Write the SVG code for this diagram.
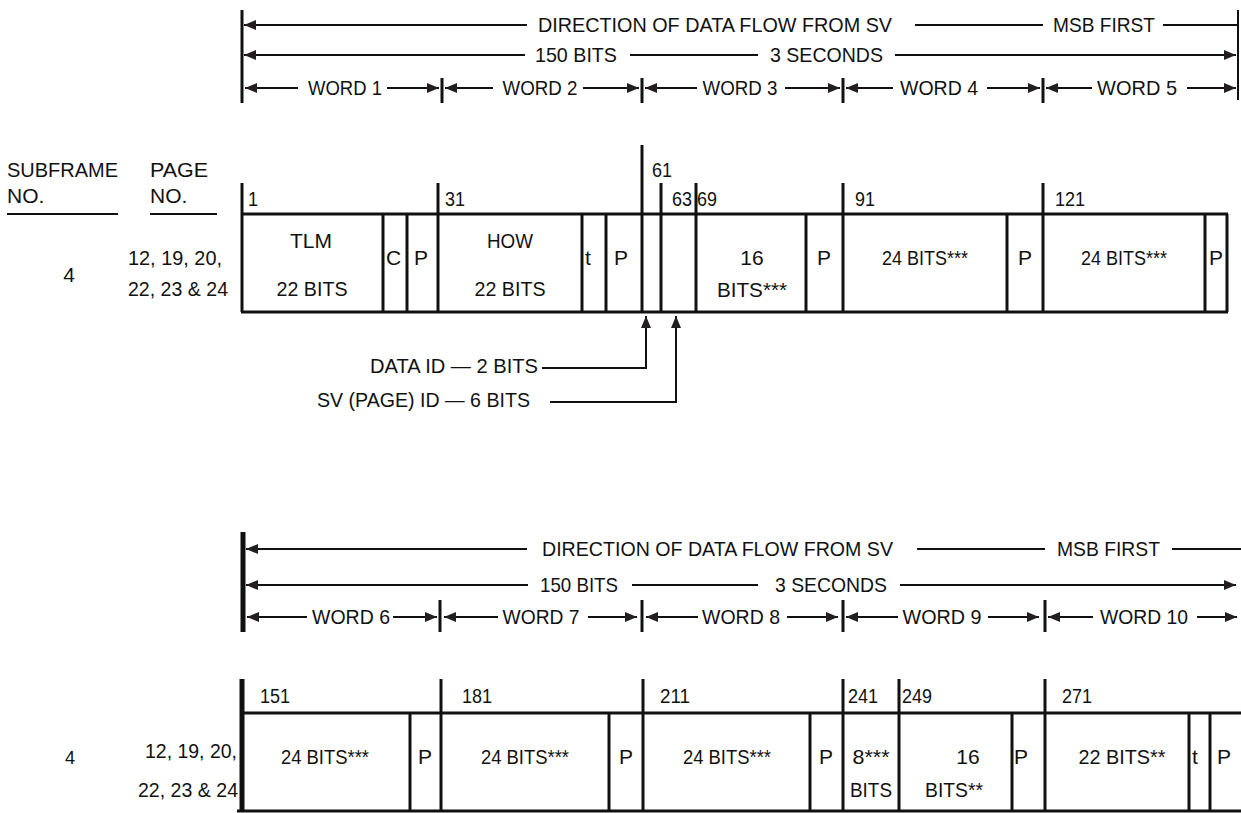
<svg xmlns="http://www.w3.org/2000/svg" width="1241" height="813" viewBox="0 0 1241 813">
<defs>
<marker id="ah" viewBox="0 0 12 10" refX="12" refY="5" markerWidth="12" markerHeight="10" markerUnits="userSpaceOnUse" orient="auto"><path d="M0,0 L12,5 L0,10 z" fill="#231f20"/></marker>
<style>
text{font-family:"Liberation Sans",Arial,sans-serif;font-size:21px;fill:#111}
.n{font-size:20px}
.c{text-anchor:middle}
.e{text-anchor:end}
.l{stroke:#111;stroke-width:2;fill:none}
.a{stroke:#111;stroke-width:2;fill:none;marker-end:url(#ah)}
.d{stroke:#111;stroke-width:3;fill:none}
.k{stroke:#111;stroke-width:5;fill:none}
</style>
</defs>
<rect width="1241" height="813" fill="#fff"/>

<!-- ===== TOP SECTION ===== -->
<g id="top-header">
<line class="d" x1="242" y1="10" x2="242" y2="103"/>
<line class="l" x1="1238" y1="10" x2="1238" y2="100"/>
<line class="a" x1="527" y1="25" x2="244" y2="25"/>
<text x="538" y="32" textLength="354" lengthAdjust="spacingAndGlyphs">DIRECTION OF DATA FLOW FROM SV</text>
<line class="l" x1="915" y1="25" x2="1043" y2="25"/>
<text x="1053" y="32" textLength="102" lengthAdjust="spacingAndGlyphs">MSB FIRST</text>
<line class="l" x1="1163" y1="25" x2="1238" y2="25"/>
<line class="a" x1="525" y1="55" x2="244" y2="55"/>
<text x="535" y="62" textLength="82" lengthAdjust="spacingAndGlyphs">150 BITS</text>
<line class="l" x1="630" y1="55" x2="758" y2="55"/>
<text x="770" y="62" textLength="113" lengthAdjust="spacingAndGlyphs">3 SECONDS</text>
<line class="a" x1="895" y1="55" x2="1236" y2="55"/>
</g>
<g id="top-words">
<line class="d" x1="442" y1="78" x2="442" y2="103"/>
<line class="d" x1="642" y1="78" x2="642" y2="103"/>
<line class="d" x1="843" y1="78" x2="843" y2="103"/>
<line class="d" x1="1043" y1="78" x2="1043" y2="103"/>
<line class="a" x1="298" y1="88" x2="245" y2="88"/><text class="c" x="345" y="95" textLength="74" lengthAdjust="spacingAndGlyphs">WORD 1</text><line class="a" x1="387" y1="88" x2="439" y2="88"/>
<line class="a" x1="493" y1="88" x2="445" y2="88"/><text class="c" x="540" y="95" textLength="75" lengthAdjust="spacingAndGlyphs">WORD 2</text><line class="a" x1="583" y1="88" x2="639" y2="88"/>
<line class="a" x1="697" y1="88" x2="645" y2="88"/><text class="c" x="740" y="95" textLength="75" lengthAdjust="spacingAndGlyphs">WORD 3</text><line class="a" x1="785" y1="88" x2="840" y2="88"/>
<line class="a" x1="893" y1="88" x2="846" y2="88"/><text class="c" x="939" y="95" textLength="78" lengthAdjust="spacingAndGlyphs">WORD 4</text><line class="a" x1="987" y1="88" x2="1040" y2="88"/>
<line class="a" x1="1092" y1="88" x2="1046" y2="88"/><text class="c" x="1137" y="95" textLength="80" lengthAdjust="spacingAndGlyphs">WORD 5</text><line class="a" x1="1187" y1="88" x2="1236" y2="88"/>
</g>

<g id="column-heads">
<text x="7" y="177" textLength="111" lengthAdjust="spacingAndGlyphs">SUBFRAME</text>
<text x="7" y="203">NO.</text>
<line class="l" x1="7" y1="214" x2="118" y2="214"/>
<text x="150" y="177" textLength="58" lengthAdjust="spacingAndGlyphs">PAGE</text>
<text x="150" y="203">NO.</text>
<line class="l" x1="150" y1="214" x2="217" y2="214"/>
</g>

<g id="top-labels">
<text x="69" y="282" class="c">4</text>
<text x="128" y="265" textLength="94" lengthAdjust="spacingAndGlyphs">12, 19, 20,</text>
<text x="128" y="296" textLength="100" lengthAdjust="spacingAndGlyphs">22, 23 &amp; 24</text>
</g>

<g id="top-ticks">
<line class="d" x1="242" y1="183" x2="242" y2="214"/><text class="n" x="248" y="206" textLength="10" lengthAdjust="spacingAndGlyphs">1</text>
<line class="d" x1="438" y1="183" x2="438" y2="214"/><text class="n" x="445" y="206" textLength="20" lengthAdjust="spacingAndGlyphs">31</text>
<line class="d" x1="642" y1="145" x2="642" y2="214"/><text class="n" x="652" y="177" textLength="20" lengthAdjust="spacingAndGlyphs">61</text>
<line class="d" x1="661" y1="183" x2="661" y2="214"/><text class="n" x="672" y="206" textLength="20" lengthAdjust="spacingAndGlyphs">63</text>
<line class="d" x1="696" y1="183" x2="696" y2="214"/><text class="n" x="697" y="206" textLength="20" lengthAdjust="spacingAndGlyphs">69</text>
<line class="d" x1="843" y1="183" x2="843" y2="214"/><text class="n" x="855" y="206" textLength="20" lengthAdjust="spacingAndGlyphs">91</text>
<line class="d" x1="1043" y1="183" x2="1043" y2="214"/><text class="n" x="1055" y="206" textLength="30" lengthAdjust="spacingAndGlyphs">121</text>
</g>

<g id="top-table">
<line class="d" x1="241" y1="214" x2="1228" y2="214"/>
<line class="d" x1="241" y1="312" x2="1228" y2="312"/>
<line class="d" x1="242" y1="214" x2="242" y2="312"/>
<line class="d" x1="383" y1="214" x2="383" y2="312"/>
<line class="d" x1="407" y1="214" x2="407" y2="312"/>
<line class="d" x1="438" y1="214" x2="438" y2="312"/>
<line class="d" x1="582" y1="214" x2="582" y2="312"/>
<line class="d" x1="606" y1="214" x2="606" y2="312"/>
<line class="d" x1="642" y1="214" x2="642" y2="312"/>
<line class="d" x1="661" y1="214" x2="661" y2="312"/>
<line class="d" x1="696" y1="214" x2="696" y2="312"/>
<line class="d" x1="806" y1="214" x2="806" y2="312"/>
<line class="d" x1="843" y1="214" x2="843" y2="312"/>
<line class="d" x1="1007" y1="214" x2="1007" y2="312"/>
<line class="d" x1="1043" y1="214" x2="1043" y2="312"/>
<line class="d" x1="1205" y1="214" x2="1205" y2="312"/>
<line class="d" x1="1227" y1="214" x2="1227" y2="312"/>
</g>
<g id="cell-tlm"><text class="c" x="311" y="248" textLength="42" lengthAdjust="spacingAndGlyphs">TLM</text><text class="c" x="312" y="296" textLength="71" lengthAdjust="spacingAndGlyphs">22 BITS</text></g>
<g id="cell-c"><text x="386" y="265">C</text></g>
<g id="cell-p1"><text x="414" y="265">P</text></g>
<g id="cell-how"><text class="c" x="510" y="248" textLength="46" lengthAdjust="spacingAndGlyphs">HOW</text><text class="c" x="510" y="296" textLength="71" lengthAdjust="spacingAndGlyphs">22 BITS</text></g>
<g id="cell-t1"><text x="585" y="265">t</text></g>
<g id="cell-p2"><text x="614" y="265">P</text></g>
<g id="cell-16"><text class="c" x="752" y="265">16</text><text class="c" x="752" y="297" textLength="70" lengthAdjust="spacingAndGlyphs">BITS***</text></g>
<g id="cell-p3"><text class="c" x="824" y="265">P</text></g>
<g id="cell-w4"><text class="c" x="925" y="265" textLength="86" lengthAdjust="spacingAndGlyphs">24 BITS***</text></g>
<g id="cell-p4"><text class="c" x="1025" y="265">P</text></g>
<g id="cell-w5"><text class="c" x="1124" y="265" textLength="86" lengthAdjust="spacingAndGlyphs">24 BITS***</text></g>
<g id="cell-p5"><text class="c" x="1216" y="265">P</text></g>

<g id="callouts">
<text class="e" x="538" y="373" textLength="168" lengthAdjust="spacingAndGlyphs">DATA ID — 2 BITS</text>
<path class="a" d="M542,368 H646 V316"/>
<text x="317" y="407" textLength="213" lengthAdjust="spacingAndGlyphs">SV (PAGE) ID — 6 BITS</text>
<path class="a" d="M550,402 H676 V316"/>
</g>

<!-- ===== BOTTOM SECTION ===== -->
<g id="bottom-header">
<line class="k" x1="243" y1="532" x2="243" y2="632"/>
<line class="a" x1="527" y1="549" x2="246" y2="549"/>
<text x="542" y="556" textLength="351" lengthAdjust="spacingAndGlyphs">DIRECTION OF DATA FLOW FROM SV</text>
<line class="l" x1="917" y1="549" x2="1045" y2="549"/>
<text x="1057" y="556" textLength="103" lengthAdjust="spacingAndGlyphs">MSB FIRST</text>
<line class="l" x1="1172" y1="549" x2="1241" y2="549"/>
<line class="a" x1="528" y1="585" x2="246" y2="585"/>
<text x="540" y="592" textLength="78" lengthAdjust="spacingAndGlyphs">150 BITS</text>
<line class="l" x1="632" y1="585" x2="758" y2="585"/>
<text x="775" y="592" textLength="112" lengthAdjust="spacingAndGlyphs">3 SECONDS</text>
<line class="a" x1="900" y1="585" x2="1236" y2="585"/>
</g>
<g id="bottom-words">
<line class="d" x1="440" y1="600" x2="440" y2="632"/>
<line class="d" x1="642" y1="600" x2="642" y2="632"/>
<line class="d" x1="843" y1="600" x2="843" y2="632"/>
<line class="d" x1="1045" y1="600" x2="1045" y2="632"/>
<line class="a" x1="307" y1="617" x2="247" y2="617"/><text class="c" x="351" y="624" textLength="78" lengthAdjust="spacingAndGlyphs">WORD 6</text><line class="a" x1="393" y1="617" x2="437" y2="617"/>
<line class="a" x1="498" y1="617" x2="444" y2="617"/><text class="c" x="541" y="624" textLength="77" lengthAdjust="spacingAndGlyphs">WORD 7</text><line class="a" x1="588" y1="617" x2="637" y2="617"/>
<line class="a" x1="698" y1="617" x2="646" y2="617"/><text class="c" x="741" y="624" textLength="78" lengthAdjust="spacingAndGlyphs">WORD 8</text><line class="a" x1="787" y1="617" x2="838" y2="617"/>
<line class="a" x1="898" y1="617" x2="846" y2="617"/><text class="c" x="942" y="624" textLength="79" lengthAdjust="spacingAndGlyphs">WORD 9</text><line class="a" x1="988" y1="617" x2="1039" y2="617"/>
<path class="a" d="M1093,617 H1060 M1058,617 H1048"/><text class="c" x="1144" y="624" textLength="88" lengthAdjust="spacingAndGlyphs">WORD 10</text><line class="a" x1="1197" y1="617" x2="1237" y2="617"/>
</g>

<g id="bottom-labels">
<text class="c" x="70" y="764" style="font-size:18px">4</text>
<text class="e" x="237" y="758" textLength="92" lengthAdjust="spacingAndGlyphs">12, 19, 20,</text>
<text class="e" x="238" y="797" textLength="100" lengthAdjust="spacingAndGlyphs">22, 23 &amp; 24</text>
</g>

<g id="bottom-ticks">
<line class="k" x1="242" y1="679" x2="242" y2="812"/><text class="n" x="260" y="703" textLength="30" lengthAdjust="spacingAndGlyphs">151</text>
<line class="d" x1="441" y1="679" x2="441" y2="713"/><text class="n" x="462" y="703" textLength="30" lengthAdjust="spacingAndGlyphs">181</text>
<line class="d" x1="643" y1="679" x2="643" y2="713"/><text class="n" x="660" y="703" textLength="30" lengthAdjust="spacingAndGlyphs">211</text>
<line class="d" x1="843" y1="679" x2="843" y2="713"/><text class="n" x="848" y="703" textLength="30" lengthAdjust="spacingAndGlyphs">241</text>
<line class="d" x1="899" y1="679" x2="899" y2="713"/><text class="n" x="902" y="703" textLength="30" lengthAdjust="spacingAndGlyphs">249</text>
<line class="d" x1="1045" y1="679" x2="1045" y2="713"/><text class="n" x="1062" y="703" textLength="30" lengthAdjust="spacingAndGlyphs">271</text>
</g>

<g id="bottom-table">
<line class="d" x1="242" y1="713" x2="1241" y2="713"/>
<line class="d" x1="237" y1="811" x2="1241" y2="811"/>
<line class="d" x1="410" y1="713" x2="410" y2="812"/>
<line class="d" x1="441" y1="713" x2="441" y2="812"/>
<line class="d" x1="609" y1="713" x2="609" y2="812"/>
<line class="d" x1="643" y1="713" x2="643" y2="812"/>
<line class="d" x1="810" y1="713" x2="810" y2="812"/>
<line class="d" x1="843" y1="713" x2="843" y2="812"/>
<line class="d" x1="899" y1="713" x2="899" y2="812"/>
<line class="d" x1="1012" y1="713" x2="1012" y2="812"/>
<line class="d" x1="1045" y1="713" x2="1045" y2="812"/>
<line class="d" x1="1189" y1="713" x2="1189" y2="812"/>
<line class="d" x1="1210" y1="713" x2="1210" y2="812"/>
</g>
<g id="cell-w6"><text class="c" x="325" y="764" textLength="88" lengthAdjust="spacingAndGlyphs">24 BITS***</text></g>
<g id="cell-p6"><text class="c" x="425" y="764">P</text></g>
<g id="cell-w7"><text class="c" x="525" y="764" textLength="88" lengthAdjust="spacingAndGlyphs">24 BITS***</text></g>
<g id="cell-p7"><text class="c" x="626" y="764">P</text></g>
<g id="cell-w8"><text class="c" x="727" y="764" textLength="88" lengthAdjust="spacingAndGlyphs">24 BITS***</text></g>
<g id="cell-p8"><text class="c" x="826" y="764">P</text></g>
<g id="cell-w9a"><text class="c" x="871" y="764" textLength="37" lengthAdjust="spacingAndGlyphs">8***</text><text class="c" x="871" y="797" textLength="42" lengthAdjust="spacingAndGlyphs">BITS</text></g>
<g id="cell-w9b"><text class="c" x="968" y="764">16</text><text class="c" x="954" y="797" textLength="58" lengthAdjust="spacingAndGlyphs">BITS**</text></g>
<g id="cell-p9"><text x="1014" y="764">P</text></g>
<g id="cell-w10"><text class="c" x="1122" y="764" textLength="87" lengthAdjust="spacingAndGlyphs">22 BITS**</text></g>
<g id="cell-t10"><text x="1192" y="764">t</text></g>
<g id="cell-p10"><text x="1217" y="764">P</text></g>
</svg>
